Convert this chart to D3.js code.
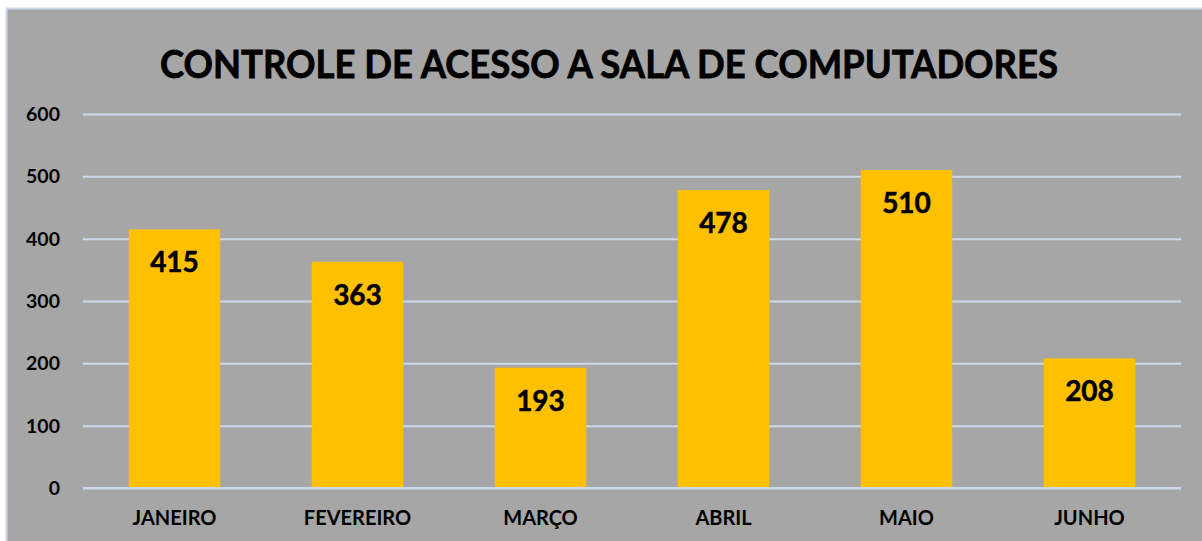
<!DOCTYPE html>
<html>
<head>
<meta charset="utf-8">
<script src="https://cdn.jsdelivr.net/npm/d3@7"></script>
<style>
  body { margin: 0; background: #ffffff; }
  svg { display: block; }
  text { font-family: Lato, "Open Sans", sans-serif; font-weight: bold; fill: #000; }
</style>
</head>
<body>
<div class="chart"></div>
<script>
// chart data
var titleText = "CONTROLE DE ACESSO A SALA DE COMPUTADORES";
var months = ["JANEIRO", "FEVEREIRO", "MARÇO", "ABRIL", "MAIO", "JUNHO"];
var acessos = [415, 363, 193, 478, 510, 208];
var yTicks = [0, 100, 200, 300, 400, 500, 600];

var width = 1202, height = 541;
var margin = {top: 114, right: 21, bottom: 53, left: 83};

var svg = d3.select("div.chart").append("svg")
    .attr("width", width)
    .attr("height", height);

// chart area
svg.append("rect")
    .attr("x", 7).attr("y", 9)
    .attr("width", width - 7).attr("height", height - 9)
    .attr("fill", "#a6a6a6");
svg.append("path")
    .attr("d", "M6.5," + height + "V8.5H" + width)
    .attr("fill", "none")
    .attr("stroke", "#c9d9ea")
    .attr("stroke-width", 2);

// cut off text from above the chart
svg.append("text")
    .attr("x", 416).attr("y", -7)
    .style("font-weight", "normal")
    .style("font-size", "16px")
    .text("p");

var x = d3.scaleBand()
    .domain(months)
    .range([margin.left, width - margin.right])
    .paddingInner(0.5)
    .paddingOuter(0.25);

var y = d3.scaleLinear()
    .domain([0, 600])
    .range([height - margin.bottom, margin.top]);

// gridlines
var grid = d3.axisLeft(y)
    .tickValues(yTicks)
    .tickSize(-(width - margin.left - margin.right))
    .tickFormat("");
svg.append("g")
    .attr("transform", "translate(" + margin.left + ",0)")
    .call(grid)
    .call(function(g) {
        g.select(".domain").remove();
        g.selectAll(".tick line").attr("stroke", "#cbd9ea").attr("stroke-width", 2);
    });

// y tick labels
svg.selectAll("text.ylab")
    .data(yTicks)
    .enter().append("text")
    .attr("class", "ylab")
    .attr("x", 60)
    .attr("y", function(d) { return y(d) + 7; })
    .attr("text-anchor", "end")
    .style("font-size", "19.5px")
    .text(function(d) { return d; });

// bars
svg.selectAll("rect.bar")
    .data(acessos)
    .enter().append("rect")
    .attr("class", "bar")
    .attr("x", function(d, i) { return x(months[i]); })
    .attr("width", x.bandwidth())
    .attr("y", function(d) { return y(d); })
    .attr("height", function(d) { return y(0) - y(d); })
    .attr("fill", "#ffc000");

// redraw the baseline over the bars
svg.append("line")
    .attr("x1", margin.left).attr("x2", width - margin.right)
    .attr("y1", y(0)).attr("y2", y(0))
    .attr("stroke", "#cbd9ea").attr("stroke-width", 2);

// value labels
svg.selectAll("text.val")
    .data(acessos)
    .enter().append("text")
    .attr("class", "val")
    .attr("x", function(d, i) { return x(months[i]) + x.bandwidth() / 2; })
    .attr("y", function(d) { return y(d) + 43; })
    .attr("text-anchor", "middle")
    .style("font-size", "28px")
    .style("stroke", "#000").style("stroke-width", 0.5)
    .text(function(d) { return d; });

// category labels
svg.selectAll("text.cat")
    .data(months)
    .enter().append("text")
    .attr("class", "cat")
    .attr("x", function(d) { return x(d) + x.bandwidth() / 2; })
    .attr("y", 525)
    .attr("text-anchor", "middle")
    .style("font-size", "20px")
    .text(function(d) { return d; });

// title
svg.append("text")
    .attr("x", 609)
    .attr("y", 78)
    .attr("text-anchor", "middle")
    .attr("textLength", 898)
    .attr("lengthAdjust", "spacingAndGlyphs")
    .style("font-size", "39px")
    .style("stroke", "#000").style("stroke-width", 0.8)
    .text(titleText);
</script>
</body>
</html>
